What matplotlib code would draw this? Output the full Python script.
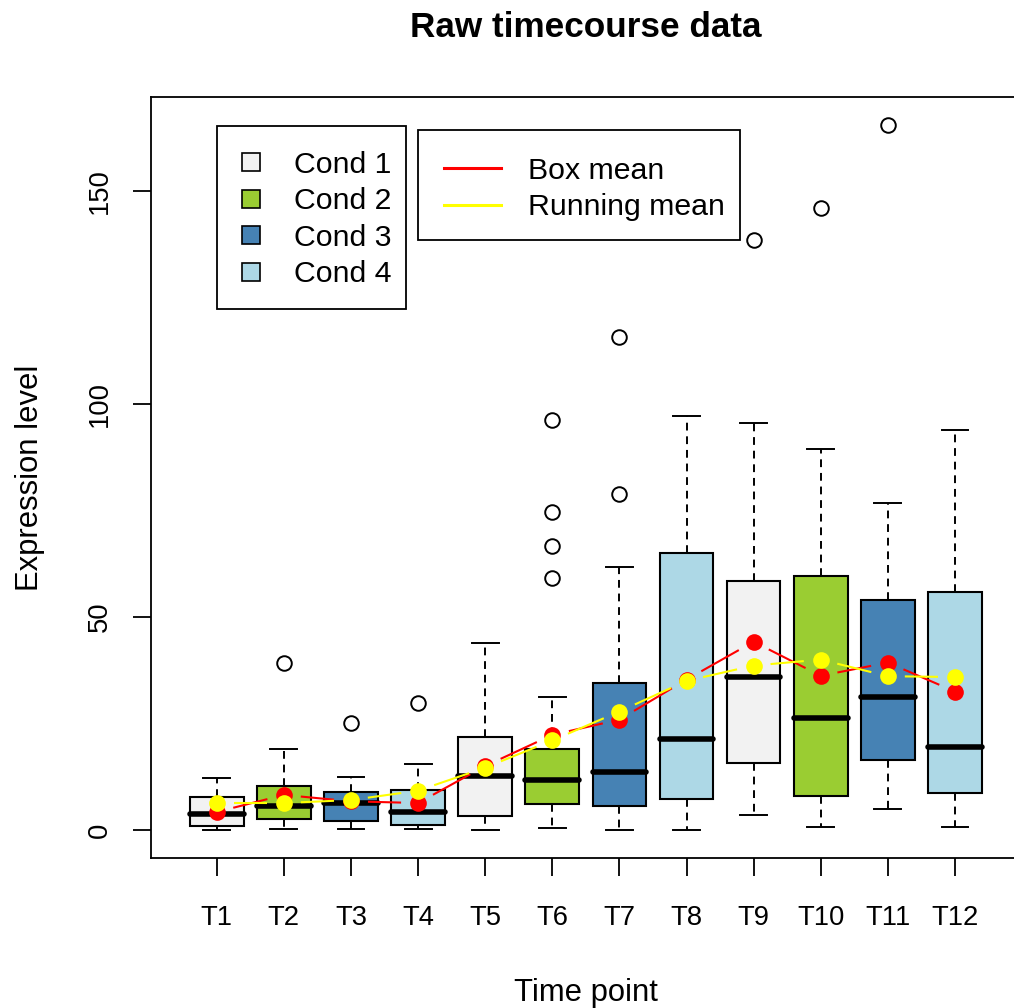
import numpy as np
import matplotlib
matplotlib.use("Agg")
import matplotlib.pyplot as plt
from matplotlib.lines import Line2D
from matplotlib.patches import Rectangle

plt.rcParams["font.family"] = ["Liberation Sans", "DejaVu Sans"]

# --- data ---
labels = ["T1", "T2", "T3", "T4", "T5", "T6", "T7", "T8", "T9", "T10", "T11", "T12"]
q1 = [0.9, 2.6, 2.0, 1.1, 3.3, 6.1, 5.5, 7.2, 15.8, 7.9, 16.4, 8.6]
med = [3.8, 5.5, 6.3, 4.1, 12.7, 11.8, 13.6, 21.3, 36.0, 26.3, 31.2, 19.5]
q3 = [7.6, 10.3, 8.8, 9.3, 21.8, 19.0, 34.5, 65.1, 58.4, 59.6, 54.0, 55.9]
whis_lo = [0.0, 0.2, 0.2, 0.1, 0.0, 0.4, 0.0, 0.0, 3.5, 0.6, 4.8, 0.6]
whis_hi = [12.1, 19.0, 12.5, 15.5, 43.9, 31.1, 61.7, 97.3, 95.6, 89.5, 76.9, 93.9]
outliers = [[], [39.2], [25.2], [29.7], [], [96.4, 74.8, 66.8, 59.1],
            [115.7, 79.0], [], [138.7], [146.2], [165.6], []]
box_mean = [4.2, 8.2, 6.7, 6.3, 15.0, 22.3, 25.9, 35.3, 44.2, 36.2, 39.3, 32.5]
running_mean = [6.3, 6.3, 7.0, 9.2, 14.6, 21.0, 27.8, 35.0, 38.6, 40.0, 36.1, 35.9]

cond_names = ["Cond 1", "Cond 2", "Cond 3", "Cond 4"]
cond_colors = ["#F2F2F2", "#9ACD32", "#4682B4", "#ADD8E6"]

W, H, DPI = 1014, 1008, 100


def gapped_line(ax, x, y, color, gap_px=17, lw=1.5):
    # R-style type="b": segments stop short of each point
    pts = ax.transData.transform(np.column_stack([x, y]))
    inv = ax.transData.inverted()
    for p0, p1 in zip(pts[:-1], pts[1:]):
        d = p1 - p0
        L = np.hypot(*d)
        if L <= 2 * gap_px:
            continue
        u = d / L
        seg = inv.transform(np.array([p0 + u * gap_px, p1 - u * gap_px]))
        ax.plot(seg[:, 0], seg[:, 1], color=color, lw=lw, zorder=4,
                solid_capstyle="butt")


def legend_box(ax, fig, x0, y0, x1, y1):
    # pixel box (top-left origin) drawn as a white framed rectangle
    r = Rectangle((x0 / W, 1 - y1 / H), (x1 - x0) / W, (y1 - y0) / H,
                  transform=fig.transFigure, facecolor="white",
                  edgecolor="black", linewidth=1.3, zorder=7, clip_on=False)
    ax.add_patch(r)


def main():
    fig = plt.figure(figsize=(W / DPI, H / DPI), dpi=DPI)
    ax = fig.add_axes([151 / W, 1 - 858 / H, (1020.7 - 151) / W, (858 - 97) / H])

    pos = np.arange(1, len(labels) + 1)
    stats = []
    for i in range(len(labels)):
        stats.append(dict(med=med[i], q1=q1[i], q3=q3[i], whislo=whis_lo[i],
                          whishi=whis_hi[i], fliers=outliers[i], label=labels[i]))

    bp = ax.bxp(stats, positions=pos, widths=0.8, capwidths=0.4,
                patch_artist=True, manage_ticks=False,
                boxprops=dict(edgecolor="black", linewidth=1.5),
                medianprops=dict(color="black", linewidth=4.0, solid_capstyle="round"),
                whiskerprops=dict(color="black", linewidth=1.4, linestyle=(0, (4, 3))),
                capprops=dict(color="black", linewidth=1.4),
                flierprops=dict(marker="o", markerfacecolor="none",
                                markeredgecolor="black", markersize=10.5,
                                markeredgewidth=1.4))
    for i, box in enumerate(bp["boxes"]):
        box.set_facecolor(cond_colors[i % 4])

    ax.set_xlim(0.02, 12.98)
    ax.set_ylim(-6.62, 172.2)

    gapped_line(ax, pos, box_mean, "red")
    ax.plot(pos, box_mean, "o", color="red", markersize=12, mew=0, zorder=5)
    gapped_line(ax, pos, running_mean, "yellow")
    ax.plot(pos, running_mean, "o", color="yellow", markersize=12, mew=0, zorder=6)

    ax.set_xticks(pos)
    ax.set_xticklabels(labels)
    ax.set_yticks([0, 50, 100, 150])
    ax.set_yticklabels(["0", "50", "100", "150"], rotation=90, va="center")
    ax.tick_params(axis="both", length=13, width=1.3, labelsize=19.7, direction="out")
    ax.tick_params(axis="x", pad=21)
    ax.tick_params(axis="y", pad=14.5)
    for s in ax.spines.values():
        s.set_linewidth(1.3)

    ax.set_xlabel("Time point", fontsize=22.3, labelpad=34)
    ax.set_ylabel("Expression level", fontsize=22.3, labelpad=30)
    ax.set_title("Raw timecourse data", fontsize=25.3, fontweight="bold", pad=43)

    legend_box(ax, fig, 217, 126, 406, 309)
    legend_box(ax, fig, 418, 130, 740, 240)

    cond_handles = [Line2D([], [], marker="s", linestyle="none", markersize=12.5,
                           markerfacecolor=c, markeredgecolor="black",
                           markeredgewidth=1.2) for c in cond_colors]
    leg1 = ax.legend(cond_handles, cond_names, loc="upper left",
                     bbox_to_anchor=(217 / W, 1 - 128 / H),
                     bbox_transform=fig.transFigure, borderaxespad=0,
                     fontsize=21.8, frameon=False, handlelength=0.76,
                     handletextpad=1.02, labelspacing=0.28, borderpad=0.75)
    leg1.set_zorder(8)
    ax.add_artist(leg1)

    mean_handles = [Line2D([], [], color="red", lw=2.2),
                    Line2D([], [], color="yellow", lw=2.2)]
    leg2 = ax.legend(mean_handles, ["Box mean", "Running mean"], loc="upper left",
                     bbox_to_anchor=(421 / W, 1 - 134 / H),
                     bbox_transform=fig.transFigure, borderaxespad=0,
                     fontsize=21.8, frameon=False, handlelength=1.88,
                     handletextpad=0.92, labelspacing=0.28, borderpad=0.75)
    leg2.set_zorder(8)

    fig.savefig("out.png", dpi=DPI)


if __name__ == "__main__":
    main()
